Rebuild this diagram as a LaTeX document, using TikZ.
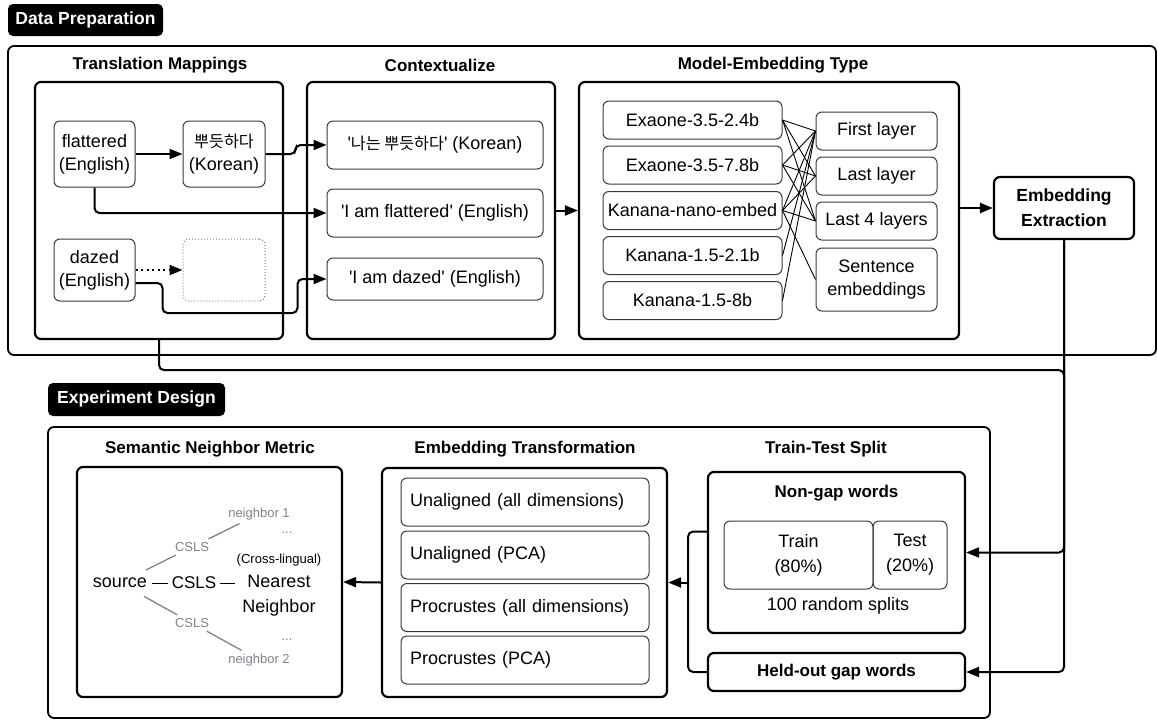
\documentclass[tikz,border=0pt]{standalone}
\usepackage{fontspec}
\setmainfont{Liberation Sans}
\newfontfamily\krfont{Noto Sans CJK KR}[Scale=0.9]
\usepackage{xcolor}
\usetikzlibrary{arrows.meta}
\usetikzlibrary{positioning}
\definecolor{nbgray}{HTML}{7D8290}
\definecolor{itemgray}{HTML}{3A3A3A}
\newcommand{\q}{\textquotesingle}
\tikzset{
  lbl/.style={fill=black, text=white, rounded corners=5pt, inner sep=0pt,
    font=\fontsize{17.5}{20}\selectfont\bfseries},
  frame/.style={draw, line width=1.8pt, rounded corners=6pt, inner sep=0pt},
  grp/.style={draw, line width=2.2pt, rounded corners=6pt, inner sep=0pt},
  item/.style={draw=itemgray, line width=1pt, rounded corners=6pt, inner sep=0pt, align=center},
  ttl/.style={font=\fontsize{17}{20}\selectfont\bfseries},
  conn/.style={line width=2pt, rounded corners=5pt},
  arr/.style={conn, -{Triangle[length=13pt,width=10pt]}},
  link/.style={line width=0.9pt},
  nb/.style={text=nbgray, font=\fontsize{13}{15}\selectfont},
  nbline/.style={draw=nbgray, line width=1.3pt}
}

\begin{document}
\begin{tikzpicture}[x=1pt, y=-1pt, font=\fontsize{18}{23}\selectfont]
\useasboundingbox (0,0) rectangle (1158,720);

% Data Preparation
\draw (85.5,20) node[lbl, minimum width=155pt, minimum height=32pt] (dplbl) {Data Preparation};
\draw (582,200.5) node[frame, minimum width=1148pt, minimum height=309pt] (dpframe) {};

\draw (159,210.5) node[grp, minimum width=248pt, minimum height=257pt] (tm) {};
\draw (160,65) node[ttl] (tmttl) {Translation Mappings};
\draw (94.5,154) node[item, minimum width=81pt, minimum height=66pt] (flat) {flattered\\(English)};
\draw (224,154) node[item, minimum width=82pt, minimum height=66pt] (kor) {{\krfont 뿌듯하다}\\(Korean)};
\draw (94.5,270) node[item, minimum width=81pt, minimum height=62pt] (dazed) {dazed\\(English)};
\draw (224,270) node[item, draw=gray, dotted, minimum width=82pt, minimum height=62pt] (blank) {};

\draw (431,210.5) node[grp, minimum width=248pt, minimum height=257pt] (ctx) {};
\draw (440,65) node[ttl] (ctxttl) {Contextualize};
\draw (435,145) node[item, minimum width=216pt, minimum height=48pt] (c1) {\q{\krfont 나는 뿌듯하다}\q{} (Korean)};
\draw (435,213) node[item, minimum width=216pt, minimum height=48pt] (c2) {\q I am flattered\q{} (English)};
\draw (435,279) node[item, minimum width=216pt, minimum height=42pt] (c3) {\q I am dazed\q{} (English)};

\draw (769,210.5) node[grp, minimum width=380pt, minimum height=257pt] (me) {};
\draw (773,65) node[ttl] (mettl) {Model-Embedding Type};
\draw (692.5,120) node[item, minimum width=179pt, minimum height=38pt] (m1) {Exaone-3.5-2.4b};
\draw (692.5,165) node[item, minimum width=179pt, minimum height=38pt] (m2) {Exaone-3.5-7.8b};
\draw (692.5,210.5) node[item, minimum width=179pt, minimum height=38pt] (m3) {Kanana-nano-embed};
\draw (692.5,255.5) node[item, minimum width=179pt, minimum height=38pt] (m4) {Kanana-1.5-2.1b};
\draw (692.5,300.5) node[item, minimum width=179pt, minimum height=38pt] (m5) {Kanana-1.5-8b};
\draw (876.5,131) node[item, minimum width=121pt, minimum height=38pt] (l1) {First layer};
\draw (876.5,176) node[item, minimum width=121pt, minimum height=38pt] (l2) {Last layer};
\draw (876.5,221) node[item, minimum width=121pt, minimum height=38pt] (l3) {Last 4 layers};
\draw (876.5,279.5) node[item, minimum width=121pt, minimum height=63pt] (l4) {Sentence\\embeddings};

\draw (1064,208) node[item, draw=black, line width=2.2pt, minimum width=140pt, minimum height=62pt,
  font=\fontsize{17.5}{25}\selectfont\bfseries] (ee) {Embedding\\Extraction};

\draw[arr] (flat) -- (kor);
\draw[arr, dash pattern=on 2pt off 3.5pt] (dazed) -- (blank);
\draw[arr] (kor.east) -- ++(30,0) |- (c1.west);
\draw[arr] (flat.south) |- (c2.west);
\draw[arr] ([yshift=-13pt]dazed.east) -- ++(27,0) -- ++(0,30) -- ++(135,0) |- (c3.west);
\draw[arr] (ctx.east) -- (me.west);
\draw[arr] (me.east |- ee.west) -- (ee.west);

\draw[link] (m1.east) -- (l1.west);
\draw[link] (m1.east) -- (l2.west);
\draw[link] (m1.east) -- (l3.west);
\draw[link] (m2.east) -- (l1.west);
\draw[link] (m2.east) -- (l2.west);
\draw[link] (m2.east) -- (l3.west);
\draw[link] (m3.east) -- (l1.west);
\draw[link] (m3.east) -- (l2.west);
\draw[link] (m3.east) -- (l3.west);
\draw[link] (m3.east) -- (l4.west);
\draw[link] (m4.east) -- (l1.west);
\draw[link] (m5.east) -- (l1.west);

% Experiment Design
\draw (136.5,399.5) node[lbl, minimum width=177pt, minimum height=33pt] (edlbl) {Experiment Design};
\draw (519,572.5) node[frame, minimum width=942pt, minimum height=291pt] (edframe) {};

\draw (209.5,582) node[grp, minimum width=265pt, minimum height=230pt] (sn) {};
\draw (210,449) node[ttl] (snttl) {Semantic Neighbor Metric};
\draw (120,583) node (src) {source};
\draw (194,583) node[font=\fontsize{17}{20}\selectfont] (cs) {CSLS};
\draw (279,595.5) node[align=center, font=\fontsize{18}{25}\selectfont] (nn) {Nearest\\Neighbor};
\draw (279,560) node[font=\fontsize{13}{15}\selectfont] (cl) {(Cross-lingual)};
\draw (259,514) node[nb] (n1) {neighbor 1};
\draw (287,533) node[nb] (d1) {...};
\draw (192,547) node[nb] (cu) {CSLS};
\draw (192,623) node[nb] (cd) {CSLS};
\draw (287,640) node[nb] (d2) {...};
\draw (259,660) node[nb] (n2) {neighbor 2};
\draw[line width=1pt] (cs.west) -- ++(-16,0);
\draw[line width=1pt] (cs.east) -- ++(15,0);
\draw[nbline, shorten <=10pt] (src) -- (cu);
\draw[nbline] (cu) -- (n1);
\draw[nbline, shorten <=10pt] (src) -- (cd);
\draw[nbline] (cd) -- (n2);

\draw (524.5,582.5) node[grp, minimum width=285pt, minimum height=229pt] (et) {};
\draw (525,449) node[ttl] (etttl) {Embedding Transformation};
\draw (525,502) node[item, minimum width=248pt, minimum height=48pt, text width=230pt, align=left] (t1) {Unaligned (all dimensions)};
\draw (525,555) node[item, minimum width=248pt, minimum height=48pt, text width=230pt, align=left] (t2) {Unaligned (PCA)};
\draw (525,607.5) node[item, minimum width=248pt, minimum height=48pt, text width=230pt, align=left] (t3) {Procrustes (all dimensions)};
\draw (525,660) node[item, minimum width=248pt, minimum height=48pt, text width=230pt, align=left] (t4) {Procrustes (PCA)};

\draw (826,449) node[ttl] (ttttl) {Train-Test Split};
\draw (836.5,552.5) node[grp, minimum width=257pt, minimum height=161pt] (ng) {};
\draw (836.5,493) node[ttl] (ngttl) {Non-gap words};
\draw (798.5,555) node[item, minimum width=149pt, minimum height=68pt, font=\fontsize{18}{25}\selectfont] (train) {Train\\(80\%)};
\draw (910,555) node[item, minimum width=74pt, minimum height=68pt, font=\fontsize{18}{25}\selectfont] (test) {Test\\(20\%)};
\draw (838,606) node (splits) {100 random splits};
\draw (836.5,672) node[grp, minimum width=257pt, minimum height=38pt, ttl] (ho) {Held-out gap words};

\path (et.east) ++(20,0) coordinate (j);
\draw[arr] (ee.south) |- (ng.east);
\draw[arr] (ee.south) |- (ho.east);
\draw[conn] (tm.south) -- ++(0,30) -| (ee.south |- ng.east);
\draw[conn] ([yshift=21pt]ng.west) -| (j) |- (ho.west);
\draw[arr] (j) -- (et.east);
\draw[arr] (et.west) -- (sn.east);

\end{tikzpicture}
\end{document}
